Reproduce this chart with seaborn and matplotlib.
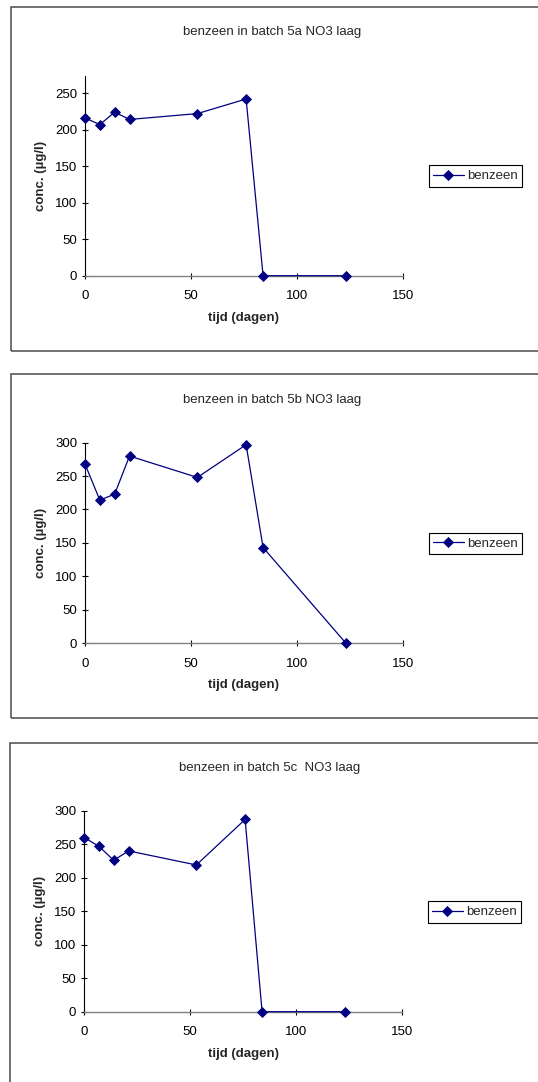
import matplotlib
matplotlib.use("Agg")
import matplotlib.pyplot as plt
from matplotlib.patches import Rectangle
import pandas as pd
import seaborn as sns

# Sampling days (tijd in dagen)
dagen = [0, 7, 14, 21, 53, 76, 84, 123]

# Benzene concentrations (µg/l) per batch
benzeen_5a = [216, 207, 224, 214, 222, 242, 0, 0]
benzeen_5b = [268, 214, 223, 280, 248, 297, 143, 0]
benzeen_5c = [260, 247, 226, 240, 219, 287, 0, 0]

titels = ["benzeen in batch 5a NO3 laag",
          "benzeen in batch 5b NO3 laag",
          "benzeen in batch 5c  NO3 laag"]
reeks_naam = "benzeen"
x_ticks = [0, 50, 100, 150]
y_ticks = [[0, 50, 100, 150, 200, 250],
           [0, 50, 100, 150, 200, 250, 300],
           [0, 50, 100, 150, 200, 250, 300]]

sns.set_style("ticks")
plt.rcParams["font.family"] = ["Liberation Sans", "DejaVu Sans"]

W, H = 538, 1082
fig = plt.figure(figsize=(W / 100, H / 100), dpi=100)

NAVY = "#000080"
FS = 9.5

# pixel layout per panel: frame (top, bottom, left), axes (left, right, top, bottom),
# y max, title position, legend centre
panels = [
    dict(frame=(7, 351, 10.5), ax=(85, 403, 76, 275.7), ymax=273.5,
         title=(271.7, 32), leg=176.2, legx=428.7),
    dict(frame=(374, 718, 11), ax=(85, 403, 442.7, 643), ymax=300,
         title=(271.7, 399.5), leg=543.7, legx=428.7),
    dict(frame=(743, 1095, 9.5), ax=(84, 402, 810.7, 1011.7), ymax=300,
         title=(270, 768), leg=912, legx=427.7),
]
reeksen = [benzeen_5a, benzeen_5b, benzeen_5c]

for i, (p, conc) in enumerate(zip(panels, reeksen)):
    ftop, fbot, fleft = p["frame"]
    fig.patches.append(Rectangle((fleft / W, 1 - fbot / H), (W + 20 - fleft) / W,
                                 (fbot - ftop) / H, transform=fig.transFigure,
                                 facecolor="none", edgecolor="#4a4a4a",
                                 linewidth=1.1, zorder=0))

    l, r, t, b = p["ax"]
    ax = fig.add_axes([l / W, 1 - b / H, (r - l) / W, (b - t) / H])
    df = pd.DataFrame({"tijd": dagen, "conc": conc})
    sns.lineplot(data=df, x="tijd", y="conc", ax=ax, color=NAVY, marker="D",
                 markersize=4.6, markeredgecolor=NAVY, markeredgewidth=0.6,
                 linewidth=0.9, label=reeks_naam, clip_on=False, zorder=5)

    ax.set_xlim(0, 150)
    ax.set_ylim(0, p["ymax"])
    ax.set_xticks(x_ticks)
    ax.set_yticks(y_ticks[i])
    ax.tick_params(axis="both", direction="inout", length=5, width=0.8,
                   labelsize=FS, colors="black")
    ax.tick_params(axis="x", pad=8)
    ax.tick_params(axis="y", pad=3)
    for s in ("top", "right"):
        ax.spines[s].set_visible(False)
    ax.spines["left"].set_color("black")
    ax.spines["left"].set_linewidth(0.8)
    ax.spines["bottom"].set_color("#808080")
    ax.spines["bottom"].set_linewidth(1.0)
    ax.set_facecolor("none")

    ax.set_xlabel("tijd (dagen)", fontsize=FS, fontweight="bold", labelpad=7)
    ax.set_ylabel("conc. (µg/l)", fontsize=FS, fontweight="bold", labelpad=6)

    tx, ty = p["title"]
    fig.text(tx / W, 1 - ty / H, titels[i], ha="center", va="center", fontsize=FS)

    leg = ax.legend(loc="center left",
                    bbox_to_anchor=(p["legx"] / W, 1 - p["leg"] / H),
                    bbox_transform=fig.transFigure, frameon=True, fancybox=False,
                    fontsize=FS, handlelength=2.3, handletextpad=0.25,
                    borderpad=0.35, borderaxespad=0)
    fr = leg.get_frame()
    fr.set_edgecolor("black")
    fr.set_linewidth(0.8)
    fr.set_facecolor("white")
    fr.set_alpha(1)

fig.savefig("out.png", dpi=100, facecolor="white")
